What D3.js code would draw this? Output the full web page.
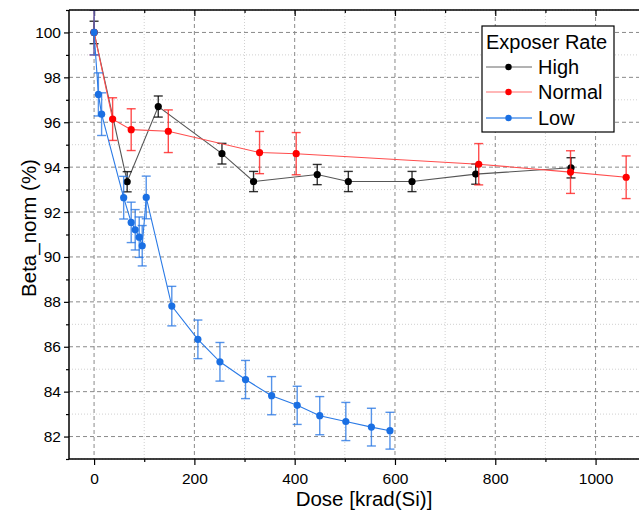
<!DOCTYPE html>
<html>
<head>
<meta charset="utf-8">
<script src="https://cdn.jsdelivr.net/npm/d3@7"></script>
<style>
  body { margin: 0; background: #fff; }
  svg { font-family: "Liberation Sans", Arial, sans-serif; }
</style>
</head>
<body>
<div id="chart"></div>
<script>
// data
var highDose = [0, 66, 128, 255, 318, 445, 507, 634, 761, 951];
var highVal = [100, 93.35, 96.7, 94.6, 93.36, 93.67, 93.36, 93.36, 93.69, 93.97];
var highErr = [0.5, 0.45, 0.47, 0.46, 0.45, 0.45, 0.45, 0.45, 0.45, 0.45];

var normalDose = [0, 37, 74, 148, 330, 403, 767, 950, 1061];
var normalVal = [100, 96.14, 95.67, 95.6, 94.65, 94.6, 94.13, 93.78, 93.55];
var normalErr = [1.0, 0.95, 0.93, 0.95, 0.94, 0.94, 0.92, 0.95, 0.95];

var lowDose = [0, 8.6, 15, 59, 74, 82, 90, 96, 104, 155, 207, 251, 302, 354, 405, 450, 502, 553, 590];
var lowVal = [100, 97.24, 96.36, 92.64, 91.54, 91.21, 90.88, 90.5, 92.65, 87.81, 86.33, 85.33, 84.54, 83.82, 83.39, 82.93, 82.67, 82.42, 82.26];
var lowErr = [1.0, 0.96, 0.95, 0.95, 0.9, 0.9, 0.9, 0.9, 0.95, 0.88, 0.86, 0.86, 0.85, 0.85, 0.85, 0.85, 0.85, 0.84, 0.82];

var seriesNames = ['High', 'Normal', 'Low'];
var xTicks = [0, 200, 400, 600, 800, 1000];
var yTicks = [82, 84, 86, 88, 90, 92, 94, 96, 98, 100];

var W = 639, H = 511;
var plotLeft = 69, plotTop = 10, plotBottom = 459;

var svg = d3.select('#chart').append('svg')
    .attr('width', W)
    .attr('height', H);

var x = d3.scaleLinear().domain([-50, 1100]).range([plotLeft, plotLeft + 1150 * 0.5015]);
var y = d3.scaleLinear().domain([81, 101]).range([plotBottom, plotTop]);

svg.append('clipPath').attr('id', 'plotClip')
    .append('rect')
    .attr('x', plotLeft).attr('y', plotTop)
    .attr('width', W - plotLeft).attr('height', plotBottom - plotTop);

var series = [
    { name: 'High', dose: highDose, val: highVal, err: highErr, dot: '#000000', line: '#555555', bar: '#000000', legLine: '#666666', legW: 1 },
    { name: 'Normal', dose: normalDose, val: normalVal, err: normalErr, dot: '#ff0000', line: '#ff4d4d', bar: '#ff2020', legLine: '#ff7070', legW: 1.2 },
    { name: 'Low', dose: lowDose, val: lowVal, err: lowErr, dot: '#1a6fe3', line: '#2a7ae6', bar: '#2a78e4', legLine: '#7fb0ef', legW: 2.2 }
];

// grid
var minorX = [100, 300, 500, 700, 900, 1100];
var minorY = [81, 83, 85, 87, 89, 91, 93, 95, 97, 99, 101];

svg.append('g').selectAll('line').data(minorX).enter().append('line')
    .attr('x1', d => x(d)).attr('x2', d => x(d))
    .attr('y1', plotTop).attr('y2', plotBottom)
    .attr('stroke', '#d0d0d0').attr('stroke-dasharray', '1,2');
svg.append('g').selectAll('line').data(minorY).enter().append('line')
    .attr('x1', plotLeft).attr('x2', W)
    .attr('y1', d => y(d)).attr('y2', d => y(d))
    .attr('stroke', '#d0d0d0').attr('stroke-dasharray', '1,2');
svg.append('g').selectAll('line').data(xTicks).enter().append('line')
    .attr('x1', d => x(d)).attr('x2', d => x(d))
    .attr('y1', plotTop).attr('y2', plotBottom)
    .attr('stroke', '#8a8a8a').attr('stroke-dasharray', '4,3');
svg.append('g').selectAll('line').data(yTicks).enter().append('line')
    .attr('x1', plotLeft).attr('x2', W)
    .attr('y1', d => y(d)).attr('y2', d => y(d))
    .attr('stroke', '#8a8a8a').attr('stroke-dasharray', '4,3');

// axes
var xAxis = d3.axisBottom(x).tickValues(xTicks).tickSize(6).tickPadding(8).tickFormat(d3.format('d'));
var xMinor = d3.axisBottom(x).tickValues(minorX).tickSize(3).tickFormat('');
var yAxis = d3.axisLeft(y).tickValues(yTicks).tickSize(5).tickPadding(3).tickFormat(d3.format('d'));
var yMinor = d3.axisLeft(y).tickValues(minorY).tickSize(3).tickFormat('');
var topAxis = d3.axisBottom(x).tickValues(xTicks).tickSize(6).tickFormat('');
var topMinor = d3.axisBottom(x).tickValues(minorX).tickSize(3).tickFormat('');

function styleAxis(g) {
    g.select('.domain').remove();
    g.selectAll('line').attr('stroke', '#000').attr('stroke-width', 1.2);
    g.selectAll('text').attr('font-size', 15.5).attr('fill', '#000')
        .attr('font-family', '"Liberation Sans", Arial, sans-serif');
}

svg.append('g').attr('transform', 'translate(0,' + plotBottom + ')').call(xAxis).call(styleAxis);
svg.append('g').attr('transform', 'translate(0,' + plotBottom + ')').call(xMinor).call(styleAxis);
svg.append('g').attr('transform', 'translate(' + plotLeft + ',0)').call(yAxis).call(styleAxis);
svg.append('g').attr('transform', 'translate(' + plotLeft + ',0)').call(yMinor).call(styleAxis);
svg.append('g').attr('transform', 'translate(0,' + plotTop + ')').call(topAxis).call(styleAxis);
svg.append('g').attr('transform', 'translate(0,' + plotTop + ')').call(topMinor).call(styleAxis);

// series
series.forEach(s => {
    var pts = s.dose.map((d, i) => ({ dose: d, val: s.val[i], err: s.err[i] }));
    var g = svg.append('g').attr('clip-path', 'url(#plotClip)');

    g.append('path')
        .datum(pts)
        .attr('fill', 'none')
        .attr('stroke', s.line)
        .attr('stroke-width', 1.1)
        .attr('d', d3.line().x(d => x(d.dose)).y(d => y(d.val)));

    var eb = g.selectAll('.eb').data(pts).enter().append('g')
        .attr('stroke', s.bar).attr('stroke-width', 1.4).attr('stroke-opacity', 0.8);
    eb.append('line')
        .attr('x1', d => x(d.dose)).attr('x2', d => x(d.dose))
        .attr('y1', d => y(d.val - d.err)).attr('y2', d => y(d.val + d.err));
    eb.append('line')
        .attr('x1', d => x(d.dose) - 4.5).attr('x2', d => x(d.dose) + 4.5)
        .attr('y1', d => y(d.val + d.err)).attr('y2', d => y(d.val + d.err));
    eb.append('line')
        .attr('x1', d => x(d.dose) - 4.5).attr('x2', d => x(d.dose) + 4.5)
        .attr('y1', d => y(d.val - d.err)).attr('y2', d => y(d.val - d.err));

    g.selectAll('circle').data(pts).enter().append('circle')
        .attr('cx', d => x(d.dose))
        .attr('cy', d => y(d.val))
        .attr('r', 3.6)
        .attr('fill', s.dot);
});

// frame
svg.append('line').attr('x1', plotLeft).attr('x2', plotLeft).attr('y1', plotTop).attr('y2', plotBottom)
    .attr('stroke', '#000').attr('stroke-width', 1.5);
svg.append('line').attr('x1', plotLeft).attr('x2', W).attr('y1', plotBottom).attr('y2', plotBottom)
    .attr('stroke', '#000').attr('stroke-width', 1.5);
svg.append('line').attr('x1', plotLeft).attr('x2', W).attr('y1', plotTop).attr('y2', plotTop)
    .attr('stroke', '#000').attr('stroke-width', 1.5);

// axis titles
svg.append('text')
    .attr('x', 364).attr('y', 506)
    .attr('text-anchor', 'middle')
    .attr('font-size', 20.5)
    .text('Dose [krad(Si)]');

svg.append('text')
    .attr('transform', 'translate(36,228) rotate(-90)')
    .attr('text-anchor', 'middle')
    .attr('font-size', 20.5)
    .text('Beta_norm (%)');

// legend
var leg = svg.append('g');
leg.append('rect')
    .attr('x', 482).attr('y', 26).attr('width', 132).attr('height', 106)
    .attr('fill', '#fff').attr('stroke', '#000').attr('stroke-width', 1.2);
leg.append('text')
    .attr('x', 486).attr('y', 49)
    .attr('font-size', 20)
    .text('Exposer Rate');
var legY = [67, 92, 118];
series.forEach((s, i) => {
    leg.append('line')
        .attr('x1', 486).attr('x2', 532)
        .attr('y1', legY[i]).attr('y2', legY[i])
        .attr('stroke', s.legLine).attr('stroke-width', s.legW);
    leg.append('circle')
        .attr('cx', 508.5).attr('cy', legY[i]).attr('r', 3.2)
        .attr('fill', s.dot);
    leg.append('text')
        .attr('x', 538).attr('y', legY[i] + 7)
        .attr('font-size', 20)
        .text(seriesNames[i]);
});
</script>
</body>
</html>
